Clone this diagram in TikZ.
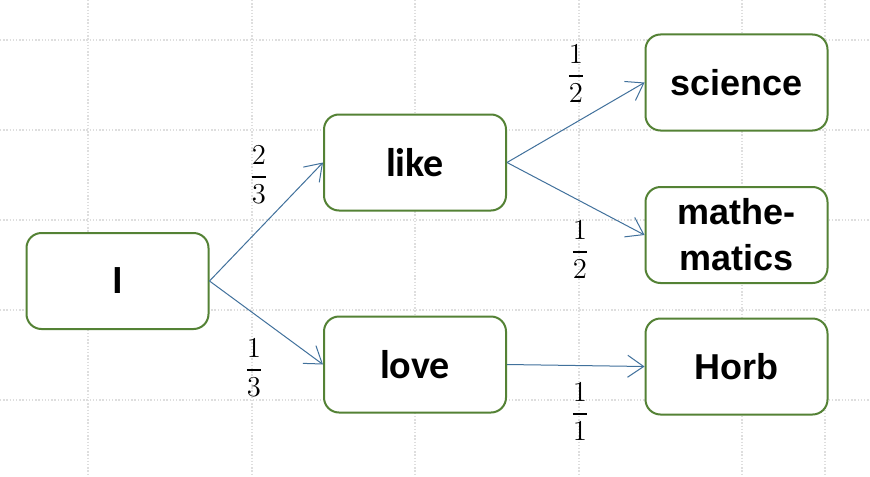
\documentclass[tikz,border=0pt]{standalone}
\usepackage{amsmath}
\usepackage{fontspec}
\usetikzlibrary{arrows.meta}
\newfontfamily\carlito{Carlito}
\newfontfamily\liber{Liberation Sans}
\definecolor{boxgreen}{RGB}{84,130,53}
\definecolor{arrowblue}{RGB}{65,113,156}
\definecolor{gridgray}{RGB}{222,222,222}

\begin{document}
\begin{tikzpicture}[x=0.5pt, y=-0.5pt,
    gridline/.style={gridgray, line width=0.75pt, dash pattern=on 0.7pt off 0.9pt},
    wordbox/.style={draw=boxgreen, line width=1pt, rounded corners=7.5pt, fill=white,
                    minimum width=91pt, minimum height=48pt, align=center, inner sep=0pt},
    leftword/.style={wordbox, font=\carlito\bfseries\fontsize{20}{24}\selectfont},
    rightword/.style={wordbox, font=\liber\bfseries\fontsize{18}{23}\selectfont},
    prob/.style={font=\fontsize{15}{18}\selectfont, inner sep=0pt},
    link/.style={draw=arrowblue, line width=0.5pt, -{Straight Barb[length=8pt,width=11pt]}}]
  \useasboundingbox[fill=white] (0,0) rectangle (870,476);

 %grid
  \foreach \gx in {88,252,415,579,742,825} {
     \draw[gridline] (\gx,0) -- (\gx,476);
  }
  \foreach \gy in {40,130,220,310,400} {
     \draw[gridline] (0,\gy) -- (870,\gy);
  }

 %words
  \node[leftword] (i) at (117.5,281) {I};
  \node[leftword] (like) at (415,162.5) {like};
  \node[leftword] (love) at (415,364.5) {love};
  \node[rightword] (science) at (736.5,82.5) {science};
  \node[rightword] (math) at (736.5,235) {mathe-\\matics};
  \node[rightword] (horb) at (736.5,366.5) {Horb};

 %links
  \draw[link] (i.east) -- (like.west);
  \draw[link] (i.east) -- (love.west);
  \draw[link] (like.east) -- (science.west);
  \draw[link] (like.east) -- (math.west);
  \draw[link] (love.east) -- (horb.west);

 %probabilities
  \node[prob] (p23) at (259,175) {$\dfrac{2}{3}$};
  \node[prob] (p13) at (254,368) {$\dfrac{1}{3}$};
  \node[prob] (p12a) at (576,74) {$\dfrac{1}{2}$};
  \node[prob] (p12b) at (580,250) {$\dfrac{1}{2}$};
  \node[prob] (p11) at (580,412) {$\dfrac{1}{1}$};
\end{tikzpicture}
\end{document}
